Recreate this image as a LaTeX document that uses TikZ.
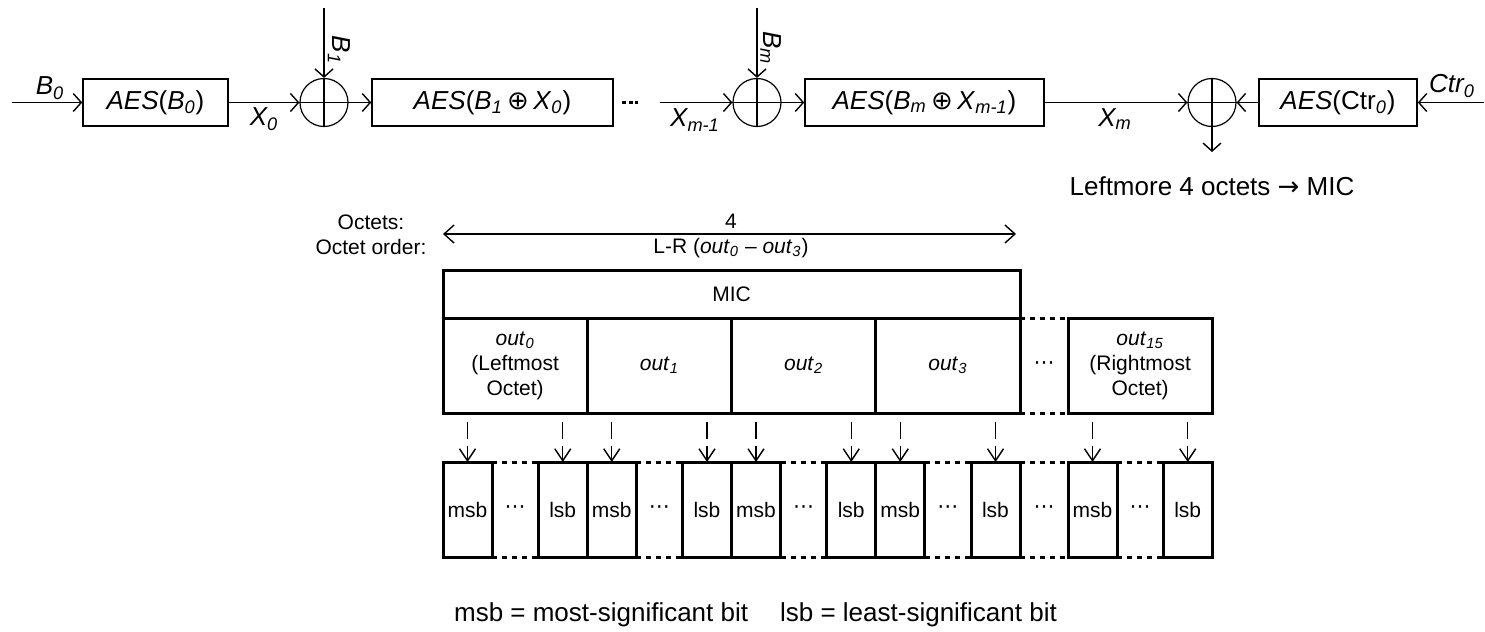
\documentclass[tikz,border=0pt]{standalone}
\usepackage{fontspec}
\setmainfont{Liberation Sans}
\newfontfamily\dejavu{DejaVu Sans}
\usetikzlibrary{arrows.meta}

\newcommand{\toprow}{\fontsize{13}{15}\selectfont}
\newcommand{\cellfont}{\fontsize{10.5}{12.5}\selectfont}
\newcommand{\sbs}[1]{\textsubscript{\itshape #1}}
\newcommand{\xorsym}{{\dejavu ⊕}}

\tikzset{
  aesbox/.style={draw, line width=0.8pt, minimum height=23.5pt, inner sep=0pt, font=\toprow},
  xorc/.style={draw, circle, line width=0.6pt, minimum size=24pt, inner sep=0pt},
  flow/.style={line width=0.7pt, -{Straight Barb[length=4pt,width=9pt]}},
  var/.style={font=\toprow\itshape, inner sep=0pt},
  octbox/.style={draw, line width=1.5pt, minimum width=72.125pt, minimum height=47.5pt,
    inner sep=0pt, outer sep=0pt, font=\cellfont, align=center},
  bitbox/.style={draw, line width=1.5pt, minimum width=24.5pt, minimum height=47.5pt,
    inner sep=0pt, outer sep=0pt, font=\cellfont},
  gapline/.style={line width=1.5pt, dash pattern=on 2.5pt off 2.5pt},
  bitarrow/.style={line width=0.7pt, dash pattern=on 0pt off 4.5pt on 8.5pt off 3.5pt on 40pt,
    -{Straight Barb[length=6pt,width=8pt]}},
}

\begin{document}
\begin{tikzpicture}[x=0.5pt,y=-0.5pt]
  \useasboundingbox (0,0) rectangle (1485,632);

  % chained AES blocks
  \node[aesbox,minimum width=72.5pt]  (aes0) at (155.5,102.5) {\textit{AES}(\textit{B}\sbs{0})};
  \node[aesbox,minimum width=120.5pt] (aes1) at (492.5,102.5) {\textit{AES}(\textit{B}\sbs{1}\,\xorsym\,\textit{X}\sbs{0})};
  \node[aesbox,minimum width=119.5pt] (aes2) at (924.5,102.5) {\textit{AES}(\textit{B}\sbs{m}\,\xorsym\,\textit{X}\sbs{m-1})};
  \node[aesbox,minimum width=79pt]    (aesc) at (1338,102.5) {\textit{AES}(Ctr\sbs{0})};
  \foreach \n/\x in {1/324,2/757,3/1212} {
    \node[xorc] (xor\n) at (\x,102.5) {};
    \draw[line width=0.6pt] (xor\n.north) -- (xor\n.south) (xor\n.west) -- (xor\n.east);
  }

  \coordinate (b0in)  at (12,102.5);
  \coordinate (b1in)  at (324,8);
  \coordinate (xmin)  at (660,102.5);
  \coordinate (bmin)  at (757,8);
  \coordinate (ctrin) at (1484,102.5);
  \coordinate (micout) at (1212,152);

  \draw[flow] (b0in) -- (aes0);
  \draw[flow] (aes0) -- (xor1);
  \draw[flow] (b1in) -- (xor1);
  \draw[flow] (xor1) -- (aes1);
  \draw[line width=1.6pt, dash pattern=on 2pt off 1.25pt] (622,102.5) -- (638,102.5);
  \draw[flow] (xmin) -- (xor2);
  \draw[flow] (bmin) -- (xor2);
  \draw[flow] (xor2) -- (aes2);
  \draw[flow] (aes2) -- (xor3);
  \draw[flow] (aesc) -- (xor3);
  \draw[flow] (ctrin) -- (aesc);
  \draw[flow] (xor3) -- (micout);

  \node[var] (lb0)  at (50,88)    {B\sbs{0}};
  \node[var] (lx0)  at (264,119)  {X\sbs{0}};
  \node[var,rotate=-90] (lb1) at (339,50) {B\sbs{1}};
  \node[var] (lxm1) at (695,120)  {X\sbs{m-1}};
  \node[var,rotate=-90] (lbm) at (771,48) {B\sbs{m}};
  \node[var] (lxm)  at (1115,119) {X\sbs{m}};
  \node[var] (lctr) at (1452,86)  {Ctr\sbs{0}};
  \node[font=\toprow] (leftmore) at (1212,186) {Leftmore 4 octets {\dejavu →} MIC};

  % MIC octet layout
  \node[font=\cellfont, align=center] (octlab) at (371,234.5) {Octets:\\Octet order:};
  \coordinate (spanl) at (443,234);
  \coordinate (spanr) at (1016,234);
  \draw[line width=0.7pt, {Straight Barb[length=5pt,width=9pt]}-{Straight Barb[length=5pt,width=9pt]}] (spanl) -- (spanr);
  \node[font=\cellfont] (noct) at (731,221) {4};
  \node[font=\cellfont] (order) at (731,248) {L-R (\textit{out}\sbs{0} -- \textit{out}\sbs{3})};

  \node[octbox, minimum width=288.5pt, minimum height=24pt] (mic) at (731.5,294) {MIC};
  \node[octbox] (oct0) at (515.125,365.5) {\textit{out}\sbs{0}\\(Leftmost\\Octet)};
  \node[octbox] (oct1) at (659.375,365.5) {\textit{out}\sbs{1}};
  \node[octbox] (oct2) at (803.625,365.5) {\textit{out}\sbs{2}};
  \node[octbox] (oct3) at (947.875,365.5) {\textit{out}\sbs{3}};
  \node[octbox] (oct15) at (1140.125,365.5) {\textit{out}\sbs{15}\\(Rightmost\\Octet)};
  \draw[gapline] (oct3.north east) -- (oct15.north west);
  \draw[gapline] (oct3.south east) -- (oct15.south west);
  \node[font=\cellfont\dejavu] (octdots) at (1044,365.5) {⋯};

  % bits of every octet
  \foreach \n/\L in {0/443,1/587.25,2/731.5,3/875.75,15/1068} {
    \node[bitbox] (msb\n) at (\L+24.5,509.5) {msb};
    \node[bitbox] (lsb\n) at (\L+119.75,509.5) {lsb};
    \draw[gapline] (msb\n.north east) -- (lsb\n.north west);
    \draw[gapline] (msb\n.south east) -- (lsb\n.south west);
    \node[font=\cellfont\dejavu] (bitdots\n) at (\L+72,509.5) {⋯};
    \draw[bitarrow] (msb\n.north |- oct\n.south) -- (msb\n.north);
    \draw[bitarrow] (lsb\n.north |- oct\n.south) -- (lsb\n.north);
  }
  \draw[gapline] (lsb3.north east) -- (msb15.north west);
  \draw[gapline] (lsb3.south east) -- (msb15.south west);
  \node[font=\cellfont\dejavu] (bitdots) at (1044,509.5) {⋯};

  \node[font=\toprow] (legend) at (755.5,615) {msb = most-significant bit\hspace{16pt}lsb = least-significant bit};
\end{tikzpicture}
\end{document}
